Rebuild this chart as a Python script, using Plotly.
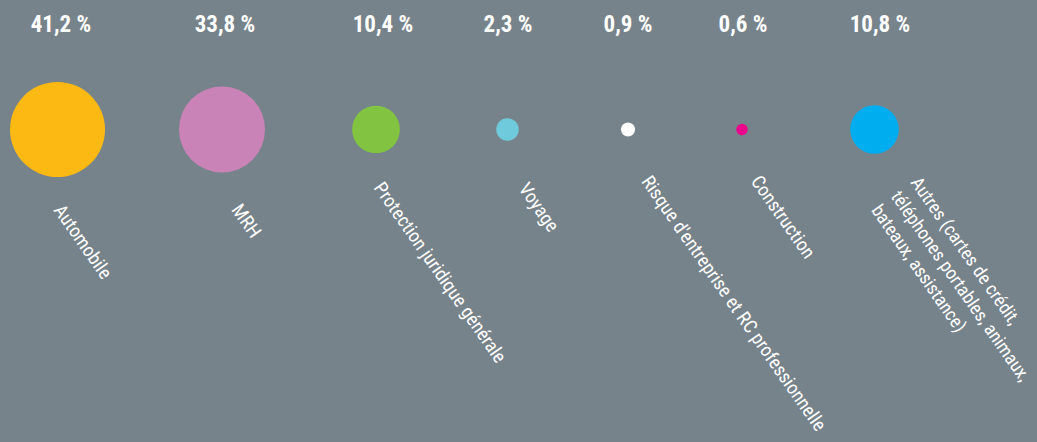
import plotly.graph_objects as go

# ---- data ----
categories = [
    "Automobile",
    "MRH",
    "Protection juridique générale",
    "Voyage",
    "Risque d'entreprise et RC professionnelle",
    "Construction",
    "Autres (cartes de crédit,<br>téléphones portables, animaux,<br>bateaux, assistance)",
]
shares = [41.2, 33.8, 10.4, 2.3, 0.9, 0.6, 10.8]
pct_labels = ["41,2 %", "33,8 %", "10,4 %", "2,3 %", "0,9 %", "0,6 %", "10,8 %"]

# ---- layout (positions / styles) ----
W, H = 1037, 442
bubble_x = [57.5, 222, 376, 507.5, 628, 742, 874.5]
bubble_y = 129.5
pct_x = [61, 225, 383, 508, 628, 743, 880]
pct_y = 26
label_pos = [(46, 197), (224, 196), (366, 175), (511, 176), (634, 168), (743, 168), (864, 170)]
label_size = [19, 19, 19, 19, 19, 19, 18.5]
colors = ["#FDB913", "#C983B7", "#82C341", "#6FCBDC", "#FFFFFF", "#EC008C", "#00AEEF"]
bg = "#77838B"
font_family = "Liberation Sans Narrow, Roboto Condensed, Arial Narrow, sans-serif"

max_diam = 95
fig = go.Figure()
fig.add_trace(go.Scatter(
    x=bubble_x, y=[bubble_y] * len(shares), mode="markers",
    marker=dict(size=shares, sizemode="area", sizeref=2.0 * max(shares) / max_diam ** 2,
                color=colors, line=dict(width=0), opacity=1),
    hoverinfo="skip", showlegend=False,
))
fig.add_trace(go.Scatter(
    x=pct_x, y=[pct_y] * len(shares), mode="text", text=pct_labels,
    textposition="middle center",
    textfont=dict(family=font_family, size=23, color="white", weight="bold"),
    hoverinfo="skip", showlegend=False,
))
for (lx, ly), fs, cat in zip(label_pos, label_size, categories):
    fig.add_annotation(
        x=lx, y=ly, xref="x", yref="y", text=cat, showarrow=False,
        textangle=55, xanchor="left", yanchor="top", align="left",
        font=dict(family=font_family, size=fs, color="white"),
    )

fig.update_layout(
    width=W, height=H, autosize=False,
    margin=dict(l=0, r=0, t=0, b=0),
    paper_bgcolor=bg, plot_bgcolor=bg,
    xaxis=dict(range=[0, W], visible=False, fixedrange=True),
    yaxis=dict(range=[H, 0], visible=False, fixedrange=True),
)
fig.write_html("out.html", config={"displayModeBar": False})
